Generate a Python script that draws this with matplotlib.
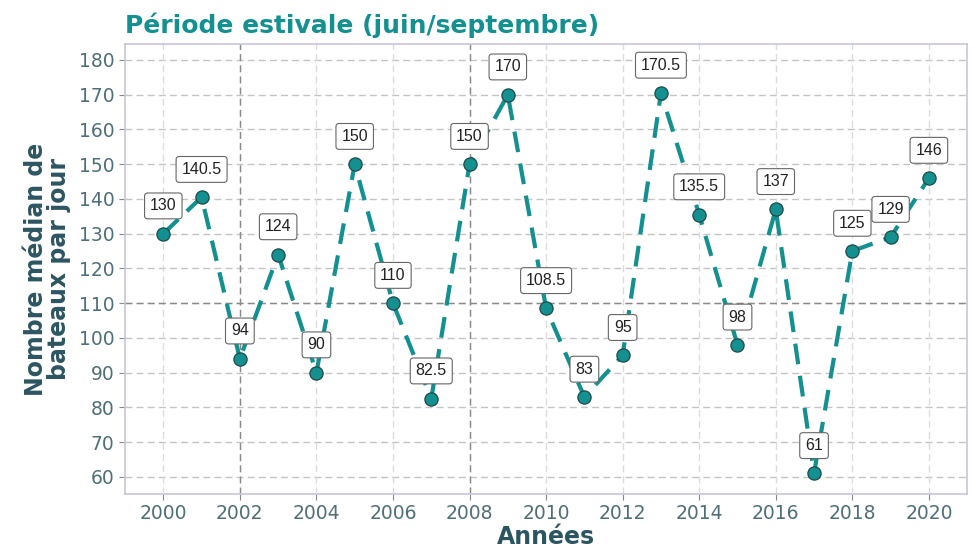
import matplotlib.pyplot as plt

# Median number of boats per day, summer season
years = [2000, 2001, 2002, 2003, 2004, 2005, 2006, 2007, 2008, 2009, 2010,
         2011, 2012, 2013, 2014, 2015, 2016, 2017, 2018, 2019, 2020]
boats = [130, 140.5, 94, 124, 90, 150, 110, 82.5, 150, 170, 108.5,
         83, 95, 170.5, 135.5, 98, 137, 61, 125, 129, 146]
x_ticks = list(range(2000, 2021, 2))
y_ticks = list(range(60, 181, 10))
ref_years = [2002, 2008]
ref_level = 110

teal = '#13908f'
dark = '#2c5562'
tick_col = '#4f6f78'

fig = plt.figure(figsize=(9.73, 5.5), dpi=100)
ax = fig.add_axes((0.1285, 0.102, 0.8655, 0.818))

for y in y_ticks:
    ax.axhline(y, color='#c4c4c4', lw=1, ls=(0, (5, 3)), zorder=0)
for x in x_ticks:
    ax.axvline(x, color='#dcdcdc', lw=1, ls=(0, (5, 3)), zorder=0)
for x in ref_years:
    ax.axvline(x, color='#8a8a8a', lw=1, ls=(0, (5, 3)), zorder=0.5)
ax.axhline(ref_level, color='#8a8a8a', lw=1, ls=(0, (5, 3)), zorder=0.5)

ax.plot(years, boats, color=teal, lw=3, ls=(0, (5, 2.8)), zorder=2,
        marker='o', markersize=9.5, markerfacecolor=teal,
        markeredgecolor='#1d4a4a', markeredgewidth=0.9)

for x, v in zip(years, boats):
    txt = f'{v:g}'
    ax.annotate(txt, (x, v), xytext=(0, 20), textcoords='offset points',
                ha='center', va='center', fontsize=11.5,
                family='Liberation Sans', color='#222222', zorder=3,
                bbox=dict(boxstyle='round,pad=0.34,rounding_size=0.2',
                          fc='white', ec='#666666', lw=0.8))

ax.set_xlim(1999, 2021)
ax.set_ylim(55.1, 184.6)
ax.set_xticks(x_ticks)
ax.set_yticks(y_ticks)
ax.tick_params(colors='#888888', labelcolor=tick_col, labelsize=13.5,
               length=4, width=0.8)
for s in ax.spines.values():
    s.set_color('#c9c3dd')
    s.set_linewidth(1.2)

ax.set_xlabel('Années', fontsize=17, fontweight='bold', color=dark,
              labelpad=1)
ax.set_ylabel('Nombre médian de\nbateaux par jour', fontsize=17,
              fontweight='bold', color=dark, labelpad=6, linespacing=0.92)
ax.set_title('Période estivale (juin/septembre)', loc='left', x=0.0,
             fontsize=18, fontweight='bold', color=teal, pad=8)

fig.savefig('out.png', dpi=100)
